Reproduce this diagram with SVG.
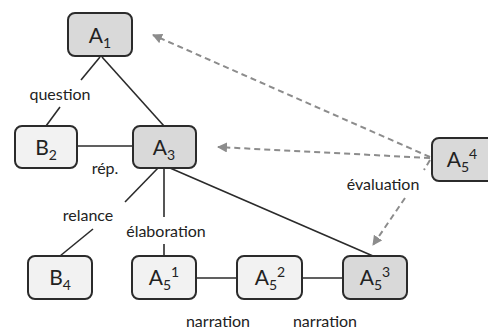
<svg xmlns="http://www.w3.org/2000/svg" width="488" height="329" viewBox="0 0 488 329">
<style>
.n rect{stroke:#2b2b2b;stroke-width:2}
.dk rect{fill:#d9d9d9}
.lt rect{fill:#f2f2f2}
.nt{font-family:Lato,"Open Sans",sans-serif;font-size:21px;fill:#222;text-anchor:middle}
.s{font-size:14px}
.lb{font-family:Lato,"Open Sans",sans-serif;font-size:16px;fill:#222;text-anchor:middle}
.ln{stroke:#2b2b2b;stroke-width:1.6;fill:none}
.da{stroke:#8c8c8c;stroke-width:2;stroke-dasharray:6,4;fill:none;marker-end:url(#ah)}
.ds{stroke:#8c8c8c;stroke-width:2;stroke-dasharray:6,4;fill:none}
</style>
<defs>
<marker id="ah" viewBox="0 0 10 10" refX="9" refY="5" markerWidth="5" markerHeight="5" orient="auto" markerUnits="strokeWidth">
<path d="M0,0 L10,5 L0,10 z" fill="#8c8c8c"/>
</marker>
</defs>
<rect width="488" height="329" fill="#fff"/>
<g id="connectors">
<line class="ln" x1="102" y1="57" x2="164" y2="126"/>
<line class="ln" x1="100" y1="57" x2="81" y2="80"/>
<line class="ln" x1="60" y1="107" x2="46" y2="126"/>
<line class="ln" x1="77" y1="146" x2="133" y2="146"/>
<line class="ln" x1="164" y1="168" x2="164" y2="217"/>
<line class="ln" x1="164" y1="244" x2="164" y2="256"/>
<line class="ln" x1="158" y1="168" x2="125" y2="202"/>
<line class="ln" x1="93" y1="229" x2="60" y2="256"/>
<line class="ln" x1="170" y1="168" x2="373" y2="256"/>
<line class="ln" x1="196" y1="278" x2="237" y2="278"/>
<line class="ln" x1="302" y1="278" x2="343" y2="278"/>
<line class="da" x1="430" y1="157" x2="153" y2="35"/>
<line class="da" x1="430" y1="158" x2="218" y2="147"/>
<line class="ds" x1="430" y1="160" x2="424" y2="170"/>
<line class="da" x1="405" y1="198" x2="373" y2="245"/>
<text class="lb" x="60" y="100">question</text>
<text class="lb" x="105" y="174">rép.</text>
<text class="lb" x="88" y="221">relance</text>
<text class="lb" x="166" y="237">élaboration</text>
<text class="lb" x="218" y="327">narration</text>
<text class="lb" x="325" y="327">narration</text>
<text class="lb" x="383" y="190">évaluation</text>
</g>
<g id="A1" class="n dk"><rect x="68" y="13" width="64" height="43" rx="7"/><text class="nt" x="100" y="43">A<tspan class="s" dy="5">1</tspan></text></g>
<g id="B2" class="n lt"><rect x="15" y="126" width="62" height="42" rx="7"/><text class="nt" x="46" y="155">B<tspan class="s" dy="5">2</tspan></text></g>
<g id="A3" class="n dk"><rect x="133" y="126" width="63" height="42" rx="7"/><text class="nt" x="164" y="155">A<tspan class="s" dy="5">3</tspan></text></g>
<g id="A54" class="n dk"><rect x="432" y="138" width="66" height="43" rx="7"/><text class="nt" x="462" y="167">A<tspan class="s" dy="5">5</tspan><tspan class="s" dy="-13">4</tspan></text></g>
<g id="B4" class="n lt"><rect x="28" y="256" width="64" height="43" rx="7"/><text class="nt" x="60" y="285">B<tspan class="s" dy="5">4</tspan></text></g>
<g id="A51" class="n lt"><rect x="132" y="256" width="64" height="43" rx="7"/><text class="nt" x="164" y="285">A<tspan class="s" dy="5">5</tspan><tspan class="s" dy="-13">1</tspan></text></g>
<g id="A52" class="n lt"><rect x="237" y="256" width="65" height="43" rx="7"/><text class="nt" x="270" y="285">A<tspan class="s" dy="5">5</tspan><tspan class="s" dy="-13">2</tspan></text></g>
<g id="A53" class="n dk"><rect x="343" y="256" width="64" height="43" rx="7"/><text class="nt" x="375" y="285">A<tspan class="s" dy="5">5</tspan><tspan class="s" dy="-13">3</tspan></text></g>
</svg>
